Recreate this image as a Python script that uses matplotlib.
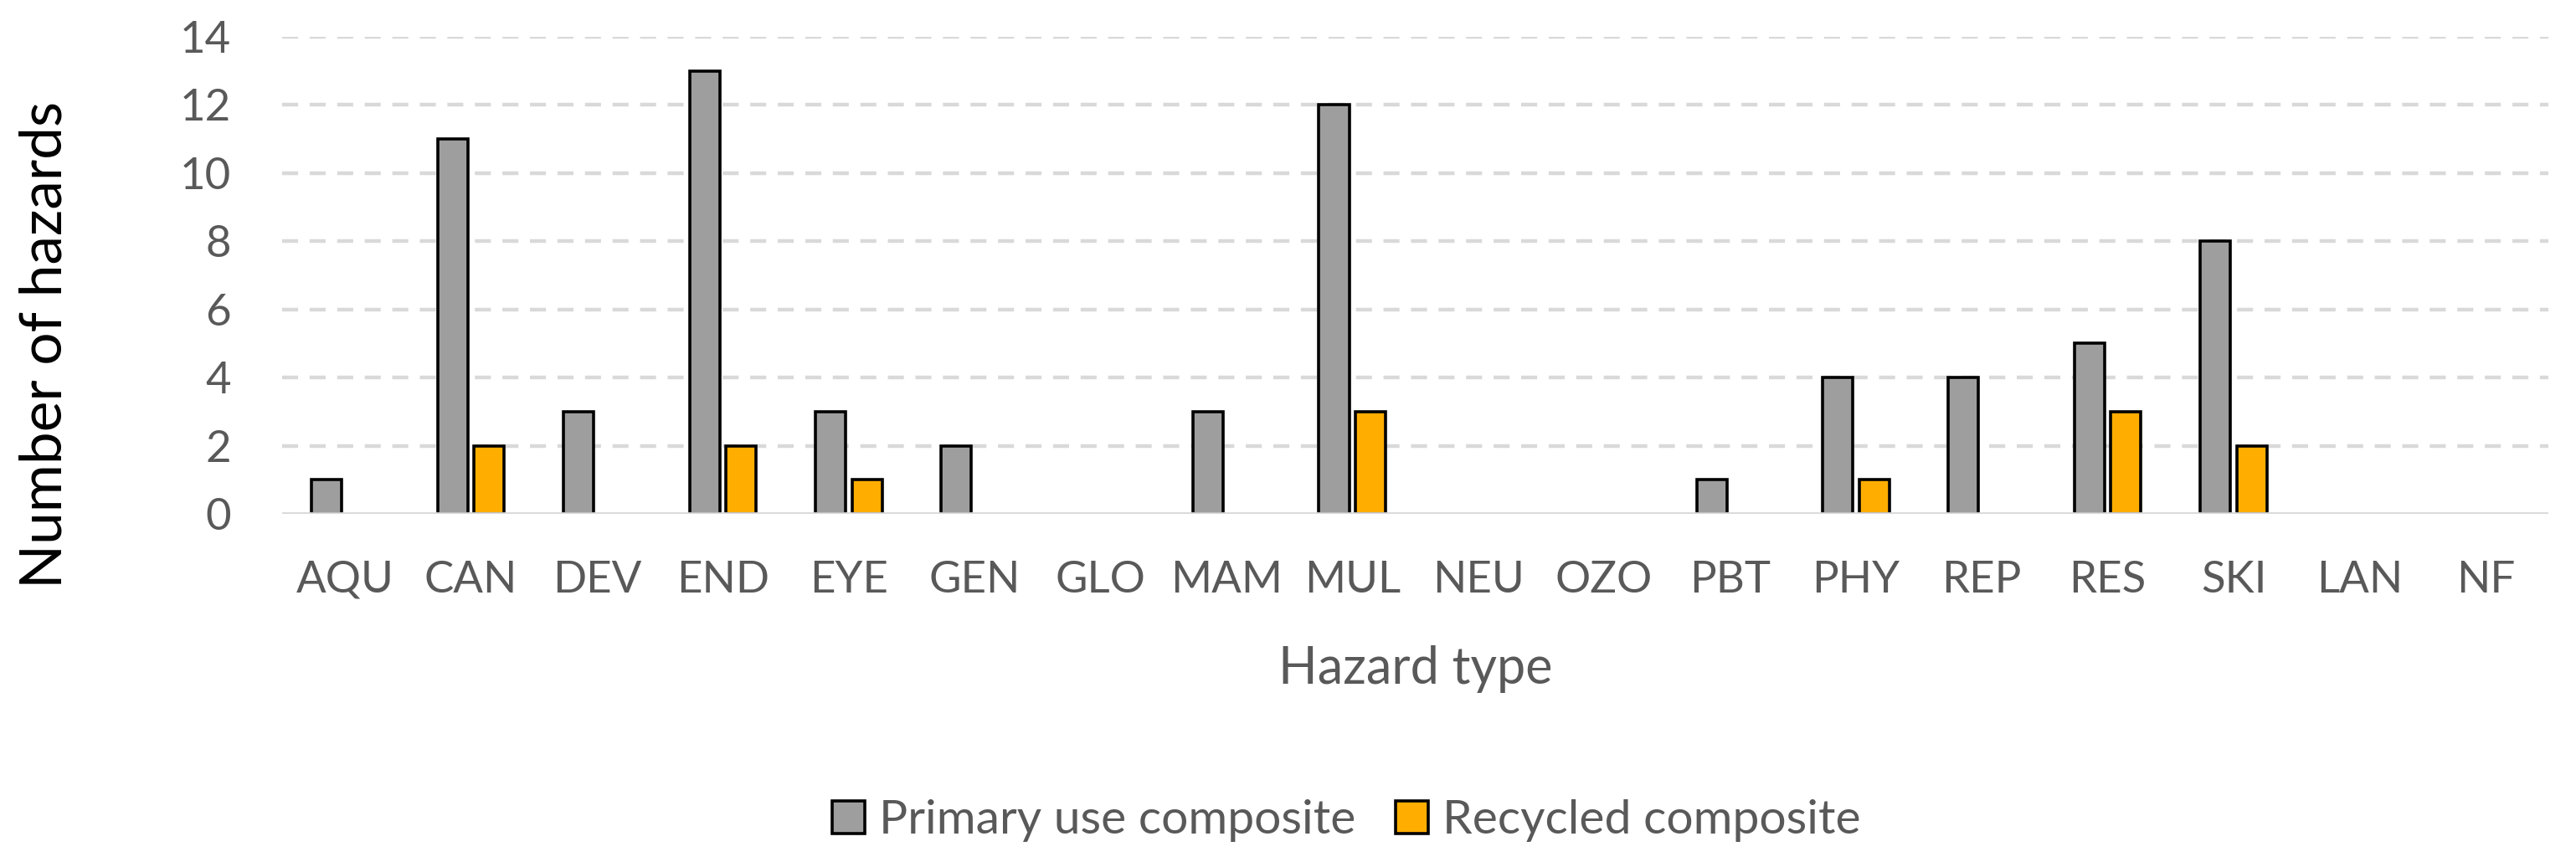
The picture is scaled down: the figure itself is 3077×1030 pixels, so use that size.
import numpy as np
import matplotlib.pyplot as plt
from matplotlib.patches import Patch

# Data
hazards = ['AQU', 'CAN', 'DEV', 'END', 'EYE', 'GEN', 'GLO', 'MAM', 'MUL',
           'NEU', 'OZO', 'PBT', 'PHY', 'REP', 'RES', 'SKI', 'LAN', 'NF']
primary = [1, 11, 3, 13, 3, 2, 0, 3, 12, 0, 0, 1, 4, 4, 5, 8, 0, 0]
recycled = [0, 2, 0, 2, 1, 0, 0, 0, 3, 0, 0, 0, 1, 0, 3, 2, 0, 0]
yticks = [0, 2, 4, 6, 8, 10, 12, 14]

plt.rcParams['font.family'] = ['Lato', 'DejaVu Sans']
txt = '#595959'
gray = '#9E9E9E'
orange = '#FFAE00'

fig = plt.figure(figsize=(30.77, 10.30), dpi=100)
ax = fig.add_axes([337/3077, 1 - 614/1030, (3044 - 337)/3077, (614 - 44)/1030])

x = np.arange(len(hazards))
w = 0.24
ax.bar(x - 0.145, primary, w, color=gray, edgecolor='black', linewidth=2.6, zorder=3)
ax.bar(x + 0.145, recycled, w, color=orange, edgecolor='black', linewidth=2.6, zorder=3)

# Zero-height bars should not show an outline
for c in ax.containers:
    for p in c.patches:
        if p.get_height() == 0:
            p.set_visible(False)

ax.set_xlim(-0.5, len(hazards) - 0.5)
ax.set_ylim(0, 14)
ax.set_yticks(yticks)
ax.set_xticks(x)
ax.set_xticklabels(hazards)
for y in yticks[1:]:
    ax.axhline(y, color='#D9D9D9', linewidth=3.2, linestyle=(0, (4.3, 3.1)),
               dash_capstyle='butt', zorder=1)
ax.axhline(0, color='#D9D9D9', linewidth=3.4, zorder=4)

for s in ax.spines.values():
    s.set_visible(False)
ax.tick_params(axis='both', length=0, labelsize=38, colors=txt)
ax.tick_params(axis='y', pad=44)
ax.tick_params(axis='x', pad=40)

fig.text(54/3077, 1 - 412/1030, 'Number of hazards', rotation=90, ha='center',
         va='center', fontsize=50, color='black')
fig.text(0.5494, 1 - 817/1030, 'Hazard type', ha='center', va='baseline',
         fontsize=44, color=txt)

handles = [Patch(facecolor=gray, edgecolor='black', linewidth=2.6, label='Primary use composite'),
           Patch(facecolor=orange, edgecolor='black', linewidth=2.6, label='Recycled composite')]
leg = fig.legend(handles=handles, loc='center', bbox_to_anchor=(0.5227, 1 - 981/1030),
                 ncol=2, frameon=False, fontsize=41, handlelength=0.68, handleheight=0.68,
                 handletextpad=0.3, columnspacing=0.85)
for t in leg.get_texts():
    t.set_color(txt)

fig.savefig('out.png', dpi=100)
